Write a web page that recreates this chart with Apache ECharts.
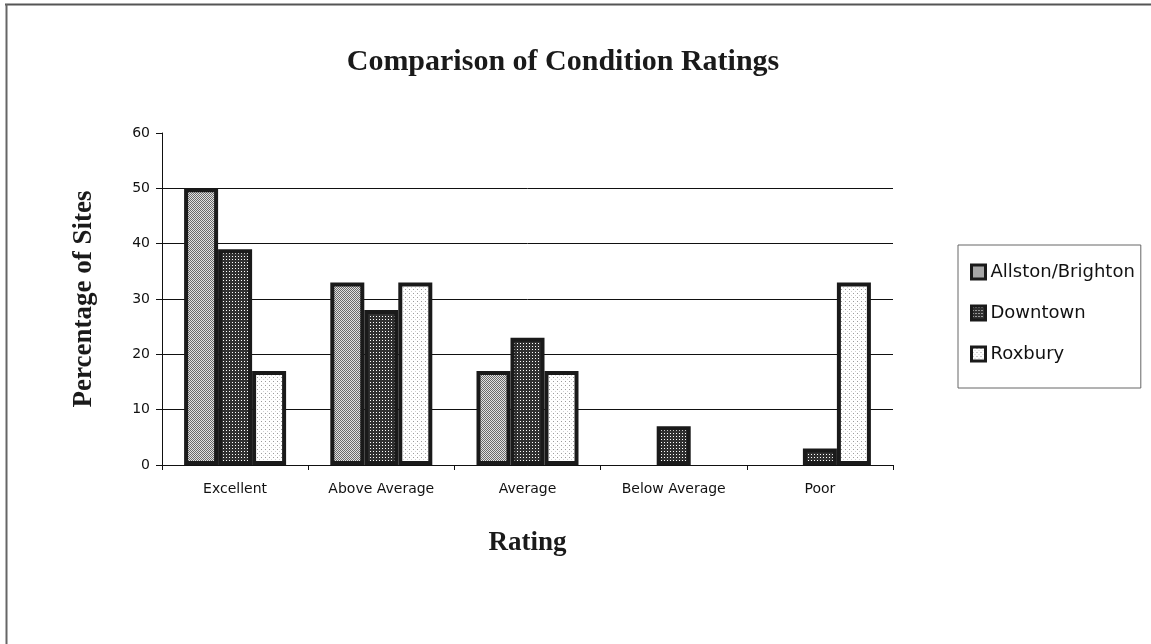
<!DOCTYPE html>
<html><head><meta charset="utf-8">
<script src="https://cdn.jsdelivr.net/npm/echarts@6/dist/echarts.min.js"></script>
<style>html,body{margin:0;padding:0;background:#fff}#c{width:1151px;height:644px}</style>
</head><body><div id="c"></div>
<script>
const categories = ['Excellent', 'Above Average', 'Average', 'Below Average', 'Poor'];
const allston = [50, 33, 17, 0, 0];
const downtown = [39, 28, 23, 7, 3];
const roxbury = [17, 33, 17, 0, 33];
const yTicks = [0, 10, 20, 30, 40, 50, 60];

function pattern(step, bg, dots) {
  const c = document.createElement('canvas');
  c.width = c.height = step;
  const x = c.getContext('2d');
  x.fillStyle = bg; x.fillRect(0, 0, step, step);
  dots.forEach(d => { x.fillStyle = d[2]; x.fillRect(d[0], d[1], 1, 1); });
  return { image: c, repeat: 'repeat' };
}
const fillA = pattern(2, '#e2e2e2', [[0, 0, '#6a6a6a'], [1, 1, '#6a6a6a']]);
const fillD = pattern(3, '#303030', [[1, 1, '#ffffff']]);
const fillR = pattern(4, '#ffffff', [[1, 1, '#9a9a9a'], [3, 3, '#d0d0d0']]);

const chart = echarts.init(document.getElementById('c'), null, { renderer: 'canvas' });
const nz = arr => arr.map(v => v === 0 ? null : v);
function bar(name, data, fill) {
  return {
    name, type: 'bar', data: nz(data), barWidth: 34, barGap: '0%',
    itemStyle: { color: fill, borderColor: '#1a1a1a', borderWidth: 4 },
    emphasis: { disabled: true }
  };
}
chart.setOption({
  animation: false,
  backgroundColor: '#fff',
  title: {
    text: 'Comparison of Condition Ratings', left: 558, top: 42, textAlign: 'center',
    textStyle: { fontFamily: 'Liberation Serif', fontWeight: 'bold', fontSize: 30, color: '#1a1a1a' }
  },
  legend: {
    orient: 'vertical', left: 958, top: 245,
    padding: [18, 6, 25, 12], itemGap: 23, itemWidth: 14, itemHeight: 14,
    borderColor: '#666', borderWidth: 1, icon: 'rect',
    itemStyle: { borderWidth: 3, borderColor: '#1a1a1a' },
    textStyle: { fontFamily: 'DejaVu Sans', fontSize: 18, color: '#111', padding: [0, 0, 0, 0] },
    data: ['Allston/Brighton', 'Downtown', 'Roxbury']
  },
  grid: { left: 162, right: 258, top: 133, bottom: 179 },
  xAxis: {
    type: 'category', data: categories,
    name: 'Rating', nameLocation: 'middle', nameGap: 65,
    nameTextStyle: { fontFamily: 'Liberation Serif', fontWeight: 'bold', fontSize: 27, color: '#1a1a1a' },
    axisLine: { lineStyle: { color: '#111', width: 1 } },
    axisTick: { show: true, length: 5, lineStyle: { color: '#111' } },
    axisLabel: { fontFamily: 'DejaVu Sans', fontSize: 14, color: '#111', margin: 17 }
  },
  yAxis: {
    type: 'value', min: yTicks[0], max: yTicks[yTicks.length - 1], interval: 10,
    name: 'Percentage of Sites', nameLocation: 'middle', nameGap: 64, nameRotate: 90,
    nameTextStyle: { fontFamily: 'Liberation Serif', fontWeight: 'bold', fontSize: 27, color: '#1a1a1a' },
    axisLine: { show: true, lineStyle: { color: '#111', width: 1 } },
    axisTick: { show: true, length: 6, lineStyle: { color: '#111' } },
    axisLabel: { fontFamily: 'DejaVu Sans', fontSize: 14, color: '#111', margin: 12 },
    splitLine: { show: true, lineStyle: { color: ['#111', '#111', '#111', '#111', '#111', '#111', 'rgba(0,0,0,0)'], width: 1 } }
  },
  graphic: [
    { type: 'line', shape: { x1: 5, y1: 4.5, x2: 1151, y2: 4.5 }, style: { stroke: '#555', lineWidth: 2 }, silent: true },
    { type: 'line', shape: { x1: 6.5, y1: 4, x2: 6.5, y2: 644 }, style: { stroke: '#666', lineWidth: 2 }, silent: true }
  ],
  series: [
    bar('Allston/Brighton', allston, fillA),
    bar('Downtown', downtown, fillD),
    bar('Roxbury', roxbury, fillR)
  ]
});
</script></body></html>
